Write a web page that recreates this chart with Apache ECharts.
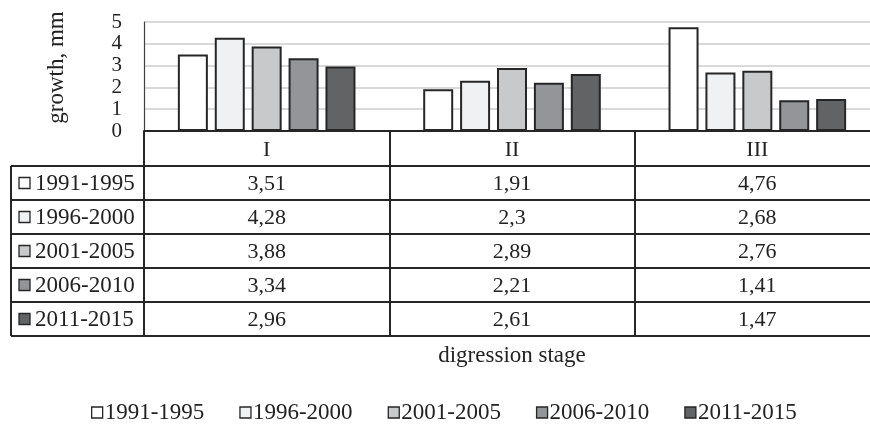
<!DOCTYPE html>
<html>
<head>
<meta charset="utf-8">
<script src="https://cdn.jsdelivr.net/npm/echarts@6/dist/echarts.min.js"></script>
<style>html,body{margin:0;padding:0;background:#fff;overflow:hidden}#c{width:880px;height:426px}</style>
</head>
<body>
<div id="c"></div>
<script>
const categories = ['I', 'II', 'III'];
const seriesNames = ['1991-1995', '1996-2000', '2001-2005', '2006-2010', '2011-2015'];
const v1991_1995 = [3.51, 1.91, 4.76];
const v1996_2000 = [4.28, 2.3, 2.68];
const v2001_2005 = [3.88, 2.89, 2.76];
const v2006_2010 = [3.34, 2.21, 1.41];
const v2011_2015 = [2.96, 2.61, 1.47];
const seriesValues = [v1991_1995, v1996_2000, v2001_2005, v2006_2010, v2011_2015];
const colors = ['#ffffff', '#f0f1f2', '#c8c9ca', '#939598', '#626365'];

const FONT = 'Liberation Serif';
const TXT = '#222222';
const LINE = '#262626';
const LW = 2;
const gridLeft = 144, gridTop = 22, gridBottomY = 131, H = 426;
const headerH = 35, rowH = 34;
const tableLeft = 11;

const fmt = v => String(v).replace('.', ',');

const xAxes = [{
  type: 'category', data: categories, gridIndex: 0, position: 'bottom', offset: 0,
  axisLine: {show: true, lineStyle: {color: LINE, width: LW}},
  axisTick: {show: true, length: headerH, interval: 0, lineStyle: {color: LINE, width: LW}},
  axisLabel: {interval: 0, margin: 8, fontFamily: FONT, fontSize: 22, color: TXT}
}];
seriesValues.forEach((vals, i) => {
  xAxes.push({
    type: 'category', data: vals.map(fmt), gridIndex: 0, position: 'bottom',
    offset: headerH + i * rowH,
    axisLine: {show: true, lineStyle: {color: LINE, width: LW}},
    axisTick: {show: true, length: rowH, interval: 0, lineStyle: {color: LINE, width: LW}},
    axisLabel: {interval: 0, margin: 7, fontFamily: FONT, fontSize: 22, color: TXT}
  });
});
xAxes.push({
  type: 'category', data: categories, gridIndex: 0, position: 'bottom',
  offset: headerH + 5 * rowH,
  axisLine: {show: true, lineStyle: {color: LINE, width: LW}},
  axisTick: {show: false}, axisLabel: {show: false},
  name: 'digression stage', nameLocation: 'middle', nameGap: 8,
  nameTextStyle: {fontFamily: FONT, fontSize: 23, color: TXT, verticalAlign: 'top'}
});

const graphics = [];
const firstRowTop = gridBottomY + headerH;
graphics.push({type: 'line', shape: {x1: tableLeft, y1: firstRowTop, x2: tableLeft, y2: firstRowTop + 5 * rowH},
  style: {stroke: LINE, lineWidth: LW}, silent: true});
for (let i = 0; i <= 5; i++) {
  const y = firstRowTop + i * rowH;
  graphics.push({type: 'line', shape: {x1: tableLeft, y1: y, x2: gridLeft, y2: y},
    style: {stroke: LINE, lineWidth: LW}, silent: true});
}
seriesNames.forEach((name, i) => {
  const cy = firstRowTop + i * rowH + rowH / 2;
  graphics.push({type: 'rect', shape: {x: 19, y: cy - 5.5, width: 11, height: 11},
    style: {fill: colors[i], stroke: LINE, lineWidth: 1.3}, silent: true});
  graphics.push({type: 'text', x: 35, y: cy + 1,
    style: {text: name, font: '23px "Liberation Serif"', fill: TXT, textVerticalAlign: 'middle', textAlign: 'left'}, silent: true});
});

const option = {
  animation: false,
  backgroundColor: '#ffffff',
  grid: {left: gridLeft, right: 0, top: gridTop, bottom: H - gridBottomY, containLabel: false},
  xAxis: xAxes,
  yAxis: {
    type: 'value', min: 0, max: 5, interval: 1,
    axisLine: {show: true, lineStyle: {color: '#404040', width: 1.2}},
    axisTick: {show: false},
    splitLine: {lineStyle: {color: '#d9d9d9', width: 2}},
    axisLabel: {margin: 22, fontFamily: FONT, fontSize: 21, color: TXT, showMinLabel: true, showMaxLabel: true},
    name: 'growth, mm', nameLocation: 'middle', nameGap: 76,
    nameTextStyle: {fontFamily: FONT, fontSize: 23, color: TXT, padding: [0, 0, 0, 18]}
  },
  legend: {
    top: 396, left: 86, itemWidth: 11, itemHeight: 11, itemGap: 35,
    icon: 'rect',
    itemStyle: {borderColor: LINE, borderWidth: 1.3},
    textStyle: {fontFamily: FONT, fontSize: 23, color: TXT, padding: [0, 0, 0, -3]},
    data: seriesNames
  },
  series: seriesNames.map((name, i) => ({
    name: name, type: 'bar', xAxisIndex: 0, data: seriesValues[i],
    barWidth: 30, barGap: '23%',
    itemStyle: {color: colors[i], borderColor: LINE, borderWidth: 2}
  })),
  graphic: graphics
};

const chart = echarts.init(document.getElementById('c'), null, {renderer: 'canvas'});
chart.setOption(option);
</script>
</body>
</html>
